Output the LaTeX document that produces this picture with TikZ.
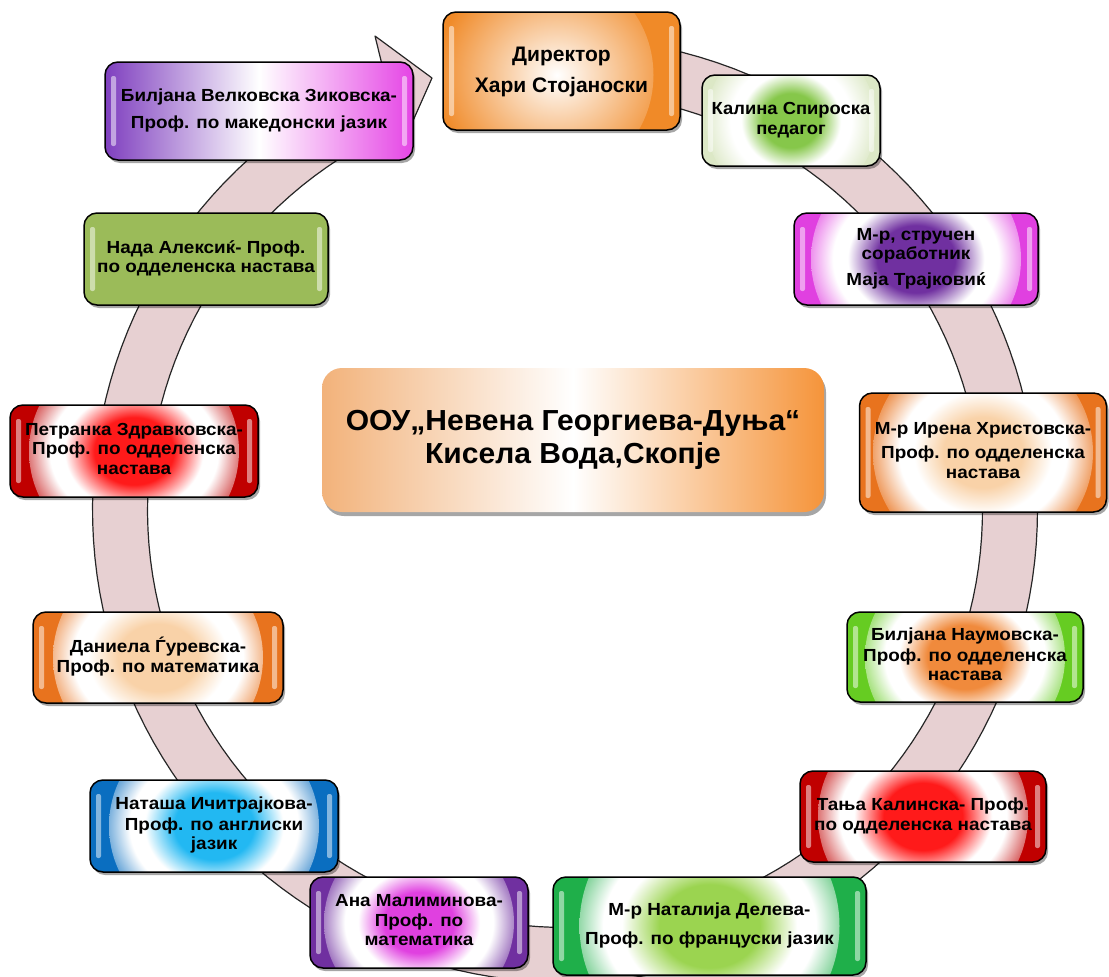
\documentclass[tikz,border=0pt]{standalone}
\usepackage{fontspec}
\usepackage{graphicx}
\setmainfont{Liberation Sans}
\usetikzlibrary{shadows,calc}

\definecolor{bandc}{HTML}{E7D0D2}
\definecolor{dirO}{HTML}{F08A28}
\definecolor{kalIn}{HTML}{86C74A}
\definecolor{kalOut}{HTML}{DCE8C6}
\definecolor{purp}{HTML}{7030A0}
\definecolor{mag}{HTML}{E040E0}
\definecolor{orIn}{HTML}{F9D2A8}
\definecolor{orOut}{HTML}{E8731E}
\definecolor{bnIn}{HTML}{F08A3C}
\definecolor{bnOut}{HTML}{66CC22}
\definecolor{redIn}{HTML}{FF1A1A}
\definecolor{redOut}{HTML}{C00000}
\definecolor{natIn}{HTML}{9BD450}
\definecolor{natOut}{HTML}{1FAF4A}
\definecolor{bluIn}{HTML}{22B8F2}
\definecolor{bluOut}{HTML}{0A6EC0}
\definecolor{olive}{HTML}{9BBB59}
\definecolor{bvL}{HTML}{7F3FBF}
\definecolor{bvR}{HTML}{E545E5}
\definecolor{cenL}{HTML}{F2B27A}
\definecolor{cenR}{HTML}{F5943A}

\colorlet{ringin}{white}
\colorlet{ringout}{black}
\pgfdeclareradialshading[ringin,ringout]{ringsh}{\pgfpoint{0bp}{0bp}}{color(0bp)=(ringin); color(8bp)=(ringin); color(14bp)=(white); color(17bp)=(white); color(25bp)=(ringout); color(50bp)=(ringout)}

\newcommand{\glossbars}{%
  \fill[white,opacity=.5,rounded corners=2pt] ([xshift=6pt,yshift=-14pt]path picture bounding box.north west) rectangle ([xshift=11pt,yshift=14pt]path picture bounding box.south west);
  \fill[white,opacity=.5,rounded corners=2pt] ([xshift=-6pt,yshift=-14pt]path picture bounding box.north east) rectangle ([xshift=-11pt,yshift=14pt]path picture bounding box.south east);}

% horizontally widened text block
\newcommand{\wtxt}[2][1.08]{\scalebox{#1}[1]{\begin{tabular}{@{}c@{}}#2\end{tabular}}}

\tikzset{
  band/.style={fill=bandc, draw=black!85, line width=1.2pt, line join=round},
  box/.style={draw=black, line width=1.5pt, rounded corners=13pt, inner sep=0pt, align=center,
    font=\bfseries\fontsize{17.5}{19.5}\selectfont,
    drop shadow={shadow xshift=2pt, shadow yshift=-3pt, opacity=.35, fill=black}},
  ringbox/.style n args={3}{fill=#2, /utils/exec={\colorlet{ringin}{#1}\colorlet{ringout}{#2}},
    path picture={\shade[shading=ringsh] (path picture bounding box.center) circle (#3); \glossbars}},
  softbox/.style 2 args={fill=#1, path picture={\shade[inner color=white, outer color=#1] ([xshift=-18pt,yshift=-4pt]path picture bounding box.center) circle (#2); \glossbars}},
  lrbox/.style 2 args={left color=#1, right color=#2, middle color=white, path picture={\glossbars}},
  flatbox/.style={fill=#1, path picture={\glossbars}},
}

\begin{document}
\begin{tikzpicture}[x=1pt,y=-1pt]
\useasboundingbox (0,0) rectangle (1109,977);
\coordinate (C) at (565,510);

% circular arrow band
\draw[band] plot[domain=265:607.5,samples=160] ({565+472.5*cos(\x)},{510+472.5*sin(\x)})
  -- (375,36) -- (432,78) -- (400,150)
  -- plot[domain=606:265,samples=160] ({565+417.5*cos(\x)},{510+417.5*sin(\x)}) -- cycle;

% boxes
\node[box, softbox={dirO}{110pt}, minimum width=237pt, minimum height=118pt,
  font=\bfseries\fontsize{21}{31}\selectfont] (dir) at (561.5,71) {\raisebox{-3pt}{\wtxt[1.0]{Директор\\Хари Стојаноски}}};
\node[box, ringbox={kalIn}{kalOut}{85pt}, minimum width=178pt, minimum height=91pt] (kal) at (791,120.5) {\wtxt[1.05]{Калина Спироска\\педагог}};
\node[box, ringbox={purp}{mag}{105pt}, minimum width=244pt, minimum height=92pt] (maja) at (916,259) {\raisebox{-2pt}{\wtxt{М-р, стручен\\соработник\\[6pt]Маја Трајковиќ}}};
\node[box, ringbox={orIn}{orOut}{110pt}, minimum width=247pt, minimum height=119pt] (irena) at (983,452.5) {\raisebox{-3pt}{\wtxt{М-р Ирена Христовска-\\[5pt]Проф. по одделенска\\настава}}};
\node[box, ringbox={bnIn}{bnOut}{100pt}, minimum width=236pt, minimum height=90pt] (bn) at (965,657) {\wtxt{Билјана Наумовска-\\[1pt]Проф. по одделенска\\настава}};
\node[box, ringbox={redIn}{redOut}{105pt}, minimum width=246pt, minimum height=91pt] (tanja) at (923,816.5) {\wtxt{Тања Калинска- Проф.\\[1pt]по одделенска настава}};
\node[box, ringbox={natIn}{natOut}{130pt}, minimum width=313pt, minimum height=98pt] (nat) at (709.5,926) {\wtxt{М-р Наталија Делева-\\[9pt]Проф. по француски јазик}};
\node[box, ringbox={mag}{purp}{95pt}, minimum width=218pt, minimum height=91pt] (ana) at (419,922.5) {\wtxt{Ана Малиминова-\\Проф. по\\математика}};
\node[box, ringbox={bluIn}{bluOut}{105pt}, minimum width=248pt, minimum height=92pt] (natasha) at (214,826) {\wtxt{Наташа Ичитрајкова-\\[1pt]Проф. по англиски\\јазик}};
\node[box, ringbox={orIn}{orOut}{105pt}, minimum width=250pt, minimum height=91pt] (dan) at (158,657.5) {\wtxt{Даниела Ѓуревска-\\Проф. по математика}};
\node[box, ringbox={redIn}{redOut}{105pt}, minimum width=248pt, minimum height=92pt] (pet) at (134,451) {\wtxt{Петранка Здравковска-\\Проф. по одделенска\\настава}};
\node[box, flatbox=olive, minimum width=244pt, minimum height=92pt] (nada) at (206,259) {\wtxt{Нада Алексиќ- Проф.\\по одделенска настава}};
\node[box, lrbox={bvL}{bvR}, minimum width=308pt, minimum height=98pt] (bv) at (259,111) {\wtxt{Билјана Велковска Зиковска-\\[7pt]Проф. по македонски јазик}};

% centre
\node[inner sep=0pt, align=center, rounded corners=20pt, left color=cenL, right color=cenR, middle color=white,
  minimum width=502pt, minimum height=144pt, font=\bfseries\fontsize{29}{33}\selectfont,
  drop shadow={shadow xshift=2pt, shadow yshift=-4pt, opacity=.35, fill=black}] (school) at (573,440)
  {\wtxt[1.035]{ООУ„Невена Георгиева-Дуња“\\Кисела Вода,Скопје}};
\end{tikzpicture}
\end{document}
